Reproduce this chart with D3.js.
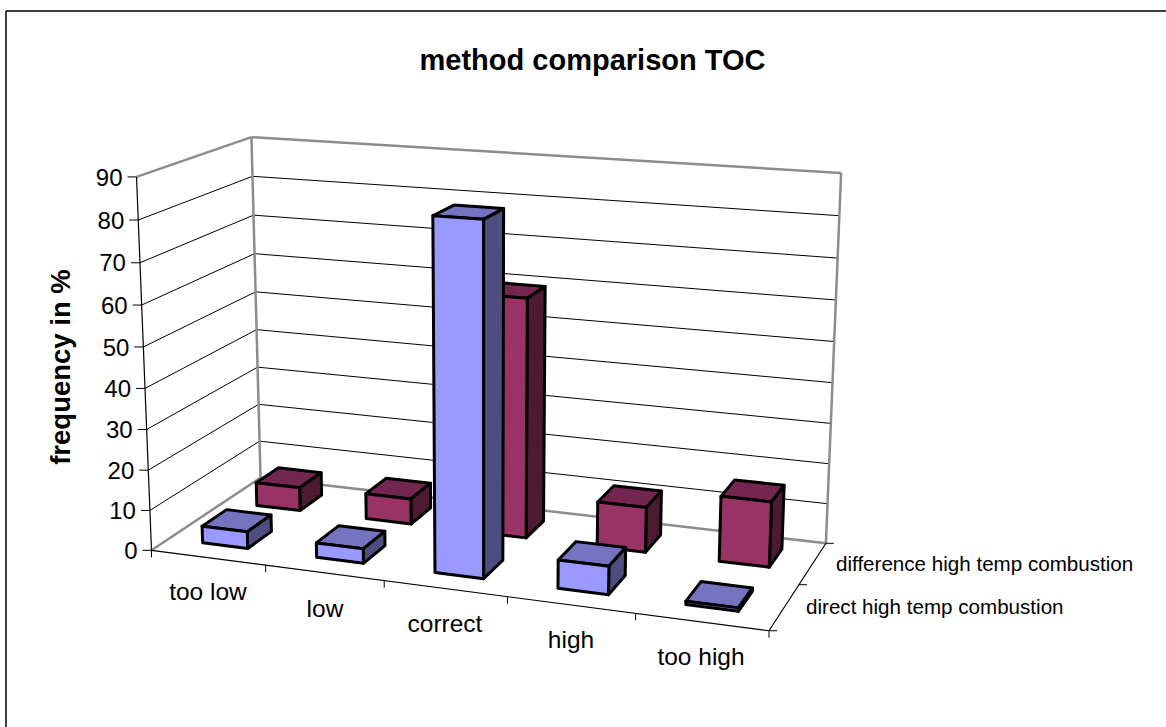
<!DOCTYPE html>
<html><head><meta charset="utf-8">
<script src="https://cdn.jsdelivr.net/npm/d3@7"></script>
<style>html,body{margin:0;background:#fff}svg{display:block}text{font-family:"Liberation Sans",Arial,sans-serif;fill:#000}</style>
</head><body><svg id="c" width="1166" height="727"></svg>
<script>
const title = "method comparison TOC";
const yTitle = "frequency in %";
const categories = ["too low","low","correct","high","too high"];
const seriesNames = ["direct high temp combustion","difference high temp combustion"];
const directValues = [4.2,3.6,84,6.8,0.8];
const differenceValues = [6,6.5,59.5,11.2,16];
const yTicks = [0,10,20,30,40,50,60,70,80,90];

// Screen positions of the corners of the 3D box: [u, v, h] -> [x, y]
const calib = [
 [[0,0,0],[152,550]],[[1,0,0],[769,631]],[[0,1,0],[260,478]],[[1,1,0],[826,543]],
 [[0,0,1],[136,177]],[[0,1,1],[252,137]],[[1,1,1],[841,173]]
];
function solve(A,b){const n=b.length,M=A.map((r,i)=>[...r,b[i]]);
 for(let i=0;i<n;i++){let p=i;for(let k=i+1;k<n;k++)if(Math.abs(M[k][i])>Math.abs(M[p][i]))p=k;
  [M[i],M[p]]=[M[p],M[i]];
  for(let k=0;k<n;k++)if(k!==i){const f=M[k][i]/M[i][i];for(let j=i;j<=n;j++)M[k][j]-=f*M[i][j];}}
 return M.map((r,i)=>r[n]/r[i]);}
const rows=[],rhs=[];
calib.forEach(([[u,v,h],[x,y]])=>{
 rows.push([u,v,h,1,0,0,0,0,-x*u/1000,-x*v/1000,-x*h/1000]);rhs.push(x);
 rows.push([0,0,0,0,u,v,h,1,-y*u/1000,-y*v/1000,-y*h/1000]);rhs.push(y);});
const AtA=d3.range(11).map(i=>d3.range(11).map(j=>d3.sum(rows,r=>r[i]*r[j])));
const Atb=d3.range(11).map(i=>d3.sum(rows,(r,k)=>r[i]*rhs[k]));
const p=solve(AtA,Atb);
const yS=d3.scaleLinear().domain([0,90]).range([0,1]);
const xS=d3.scaleBand().domain(categories).range([0,1]);
const zS=d3.scaleBand().domain(seriesNames).range([0,1]);
function P(u,v,val){const h=yS(val),w=(p[8]*u+p[9]*v+p[10]*h)/1000+1;
 return [(p[0]*u+p[1]*v+p[2]*h+p[3])/w,(p[4]*u+p[5]*v+p[6]*h+p[7])/w];}

const svg=d3.select("#c");
const line=(a,b,col,w)=>svg.append("line").attr("x1",a[0]).attr("y1",a[1]).attr("x2",b[0]).attr("y2",b[1]).attr("stroke",col).attr("stroke-width",w);
line([6,11],[1166,11],"#000",1.5);line([6,11],[6,727],"#000",1.5);

yTicks.filter(t=>t>0&&t<90).forEach(t=>{line(P(0,0,t),P(0,1,t),"#000",1);line(P(0,1,t),P(1,1,t),"#000",1);});
const G="#8c8c8c",gw=2.5;
line(P(0,0,0),P(0,1,0),G,gw);line(P(0,1,0),P(1,1,0),G,gw);
line(P(0,0,90),P(0,1,90),G,gw);line(P(0,1,90),P(1,1,90),G,gw);
line(P(0,1,0),P(0,1,90),G,gw);line(P(1,1,0),P(1,1,90),G,gw);

line(P(0,0,0),P(0,0,90),"#000",1.2);line(P(0,0,0),P(1,0,0),"#000",1.2);line(P(1,0,0),P(1,1,0),"#000",1.2);
yTicks.forEach(t=>{const a=P(0,0,t);line(a,[a[0]-9,a[1]],"#000",1);
 svg.append("text").attr("x",a[0]-14).attr("y",a[1]).attr("dy","0.36em").attr("text-anchor","end").attr("font-size",24).text(t);});
d3.range(6).forEach(i=>{const a=P(i/5,0,0);line(a,[a[0],a[1]+7],"#000",1);});
[0,0.5,1].forEach(v=>{const a=P(1,v,0);line(a,[a[0]+8,a[1]],"#000",1);});

const cols=[{front:"#9999ff",side:"#4d4d80",top:"#7373bf"},{front:"#993366",side:"#4d1a33",top:"#732650"}];
const barW=0.4,barD=0.11;
[[differenceValues,1],[directValues,0]].forEach(([vals,s])=>{
 const name=seriesNames[s];
 categories.forEach((c,i)=>{
  const uc=xS(c)+xS.bandwidth()/2,vc=zS(name)+zS.bandwidth()/2+0.01,val=vals[i];
  const u0=uc-barW*xS.bandwidth()/2,u1=uc+barW*xS.bandwidth()/2,v0=vc-barD,v1=vc+barD;
  const g=svg.append("g").attr("stroke","#000").attr("stroke-width",3).attr("stroke-linejoin","round");
  const poly=(pts,f)=>g.append("polygon").attr("points",pts.map(q=>q.join(",")).join(" ")).attr("fill",f);
  poly([P(u0,v0,val),P(u1,v0,val),P(u1,v1,val),P(u0,v1,val)],cols[s].top);
  poly([P(u1,v0,0),P(u1,v1,0),P(u1,v1,val),P(u1,v0,val)],cols[s].side);
  poly([P(u0,v0,0),P(u1,v0,0),P(u1,v0,val),P(u0,v0,val)],cols[s].front);
 });
});

const catPos=[[208,600],[325,617],[445,632],[571,648],[701,665]];
categories.forEach((c,i)=>svg.append("text").attr("x",catPos[i][0]).attr("y",catPos[i][1]).attr("text-anchor","middle").attr("font-size",24.5).text(c));
svg.append("text").attr("x",806).attr("y",614).attr("font-size",20.6).text(seriesNames[0]);
svg.append("text").attr("x",836).attr("y",571).attr("font-size",20.6).text(seriesNames[1]);
svg.append("text").attr("x",592.5).attr("y",70).attr("text-anchor","middle").attr("font-size",29).attr("font-weight","bold").text(title);
svg.append("text").attr("transform","translate(70,367) rotate(-90)").attr("text-anchor","middle").attr("font-size",27.5).attr("font-weight","bold").text(yTitle);
</script></body></html>
